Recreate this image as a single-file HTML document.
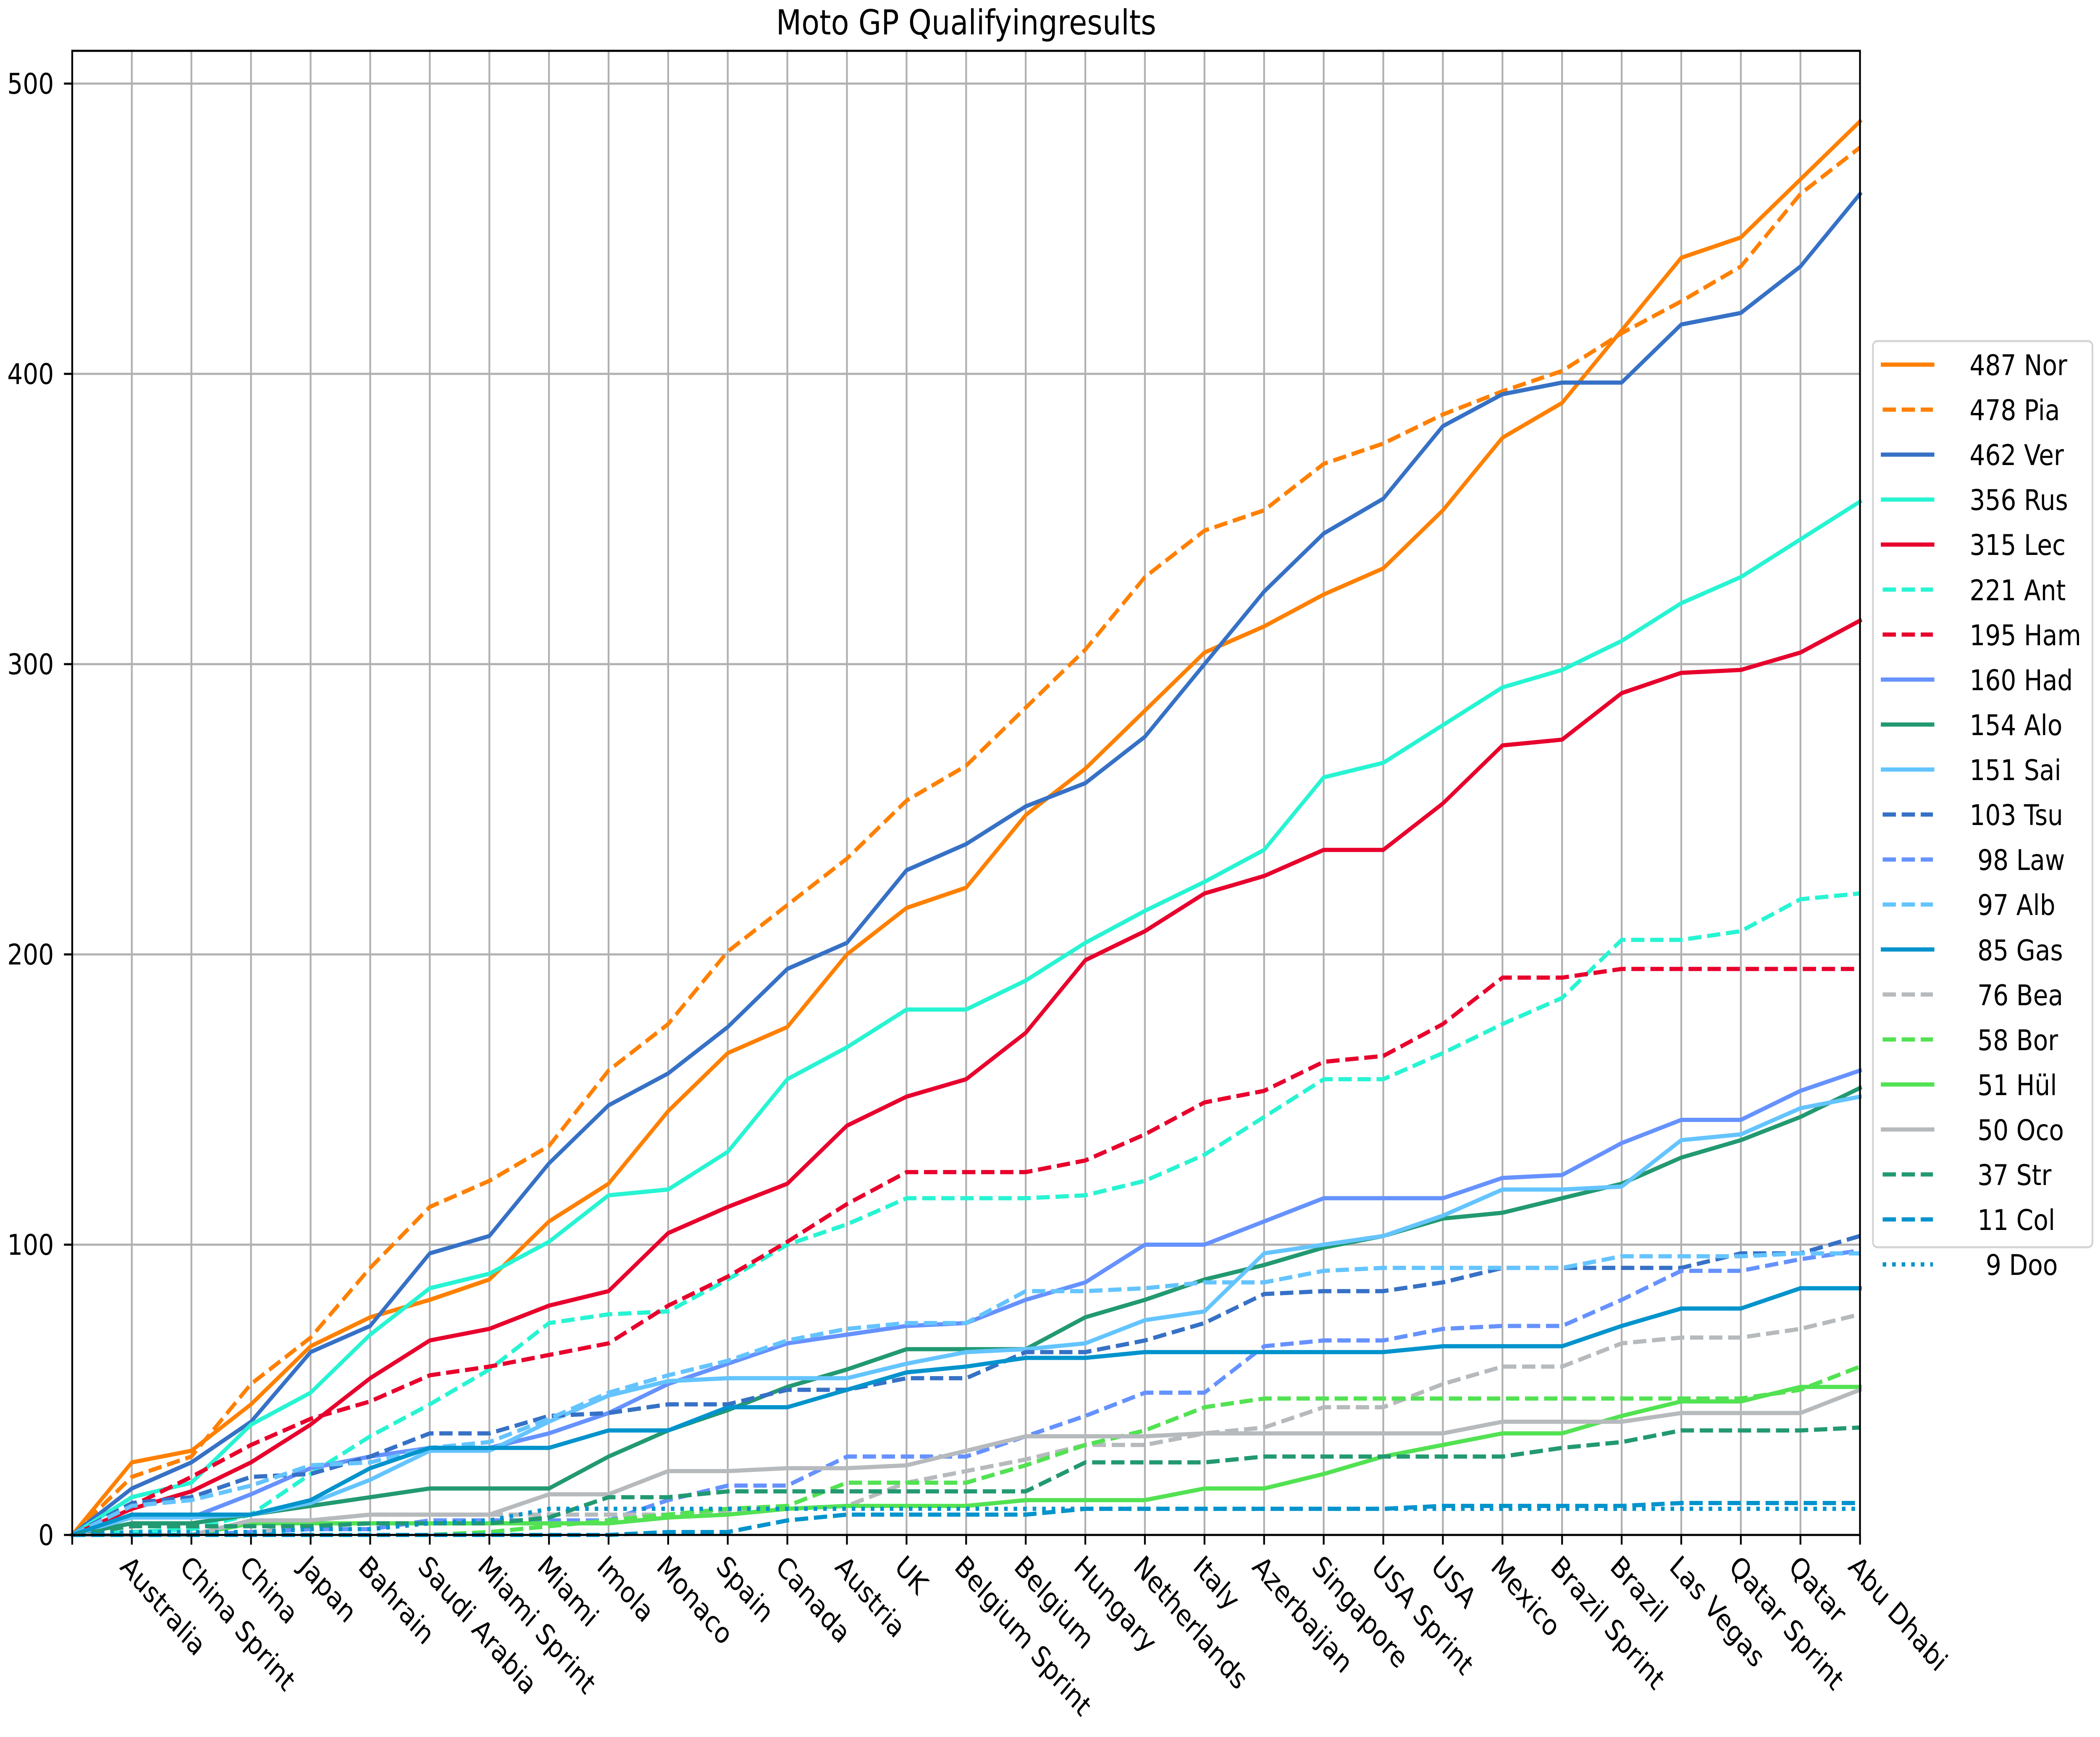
<!DOCTYPE html>
<html><head><meta charset="utf-8">
<meta name="viewport" content="width=5845,initial-scale=1">
<style>
html,body{margin:0;padding:0;background:#fff;overflow:hidden;width:100vw;height:100vh;}
svg{display:block;width:100vw;height:100vh;}
text{font-family:"DejaVu Sans","Liberation Sans",sans-serif;fill:#000;}
</style></head>
<body>
<svg id="s" xmlns="http://www.w3.org/2000/svg" viewBox="0 0 5845 4135" preserveAspectRatio="none">
<rect x="0" y="0" width="5845" height="4135" fill="#fff"/>
<g id="grid" stroke="#b0b0b0" stroke-width="5"></g>
<g id="lines" fill="none" stroke-width="10" stroke-linejoin="round"></g>
<rect x="201" y="121" width="4976" height="3533" fill="none" stroke="#000" stroke-width="5"/>
<g id="ticks" stroke="#000" stroke-width="5"></g>
<text x="2689" y="82" font-size="82" text-anchor="middle">Moto GP Qualifyingresults</text>
<g font-size="68" text-anchor="end">
<text x="150" y="3678">0</text>
<text x="150" y="2987">100</text>
<text x="150" y="2296">200</text>
<text x="150" y="1605">300</text>
<text x="150" y="914">400</text>
<text x="150" y="223">500</text>
</g>
<rect x="5213" y="812" width="611" height="2157" rx="12" fill="#fff" fill-opacity="0.8" stroke="#d5d5d5" stroke-width="5"/>
<g id="leg" fill="none" stroke-width="10"></g>
<g font-size="68" xml:space="preserve">
<text x="5482" y="893">487 Nor</text>
<text x="5482" y="1000">478 Pia</text>
<text x="5482" y="1107">462 Ver</text>
<text x="5482" y="1214">356 Rus</text>
<text x="5482" y="1321">315 Lec</text>
<text x="5482" y="1429">221 Ant</text>
<text x="5482" y="1536">195 Ham</text>
<text x="5482" y="1643">160 Had</text>
<text x="5482" y="1750">154 Alo</text>
<text x="5482" y="1857">151 Sai</text>
<text x="5482" y="1964">103 Tsu</text>
<text x="5504" y="2071">98 Law</text>
<text x="5504" y="2178">97 Alb</text>
<text x="5504" y="2286">85 Gas</text>
<text x="5504" y="2393">76 Bea</text>
<text x="5504" y="2500">58 Bor</text>
<text x="5504" y="2607">51 Hül</text>
<text x="5504" y="2714">50 Oco</text>
<text x="5504" y="2821">37 Str</text>
<text x="5504" y="2928">11 Col</text>
<text x="5527" y="3035">9 Doo</text>
</g>
<g font-size="68">
<text transform="translate(367,3697) rotate(45)" dominant-baseline="hanging">Australia</text>
<text transform="translate(533,3697) rotate(45)" dominant-baseline="hanging">China Sprint</text>
<text transform="translate(699,3697) rotate(45)" dominant-baseline="hanging">China</text>
<text transform="translate(865,3697) rotate(45)" dominant-baseline="hanging">Japan</text>
<text transform="translate(1030,3697) rotate(45)" dominant-baseline="hanging">Bahrain</text>
<text transform="translate(1196,3697) rotate(45)" dominant-baseline="hanging">Saudi Arabia</text>
<text transform="translate(1362,3697) rotate(45)" dominant-baseline="hanging">Miami Sprint</text>
<text transform="translate(1528,3697) rotate(45)" dominant-baseline="hanging">Miami</text>
<text transform="translate(1694,3697) rotate(45)" dominant-baseline="hanging">Imola</text>
<text transform="translate(1860,3697) rotate(45)" dominant-baseline="hanging">Monaco</text>
<text transform="translate(2026,3697) rotate(45)" dominant-baseline="hanging">Spain</text>
<text transform="translate(2191,3697) rotate(45)" dominant-baseline="hanging">Canada</text>
<text transform="translate(2357,3697) rotate(45)" dominant-baseline="hanging">Austria</text>
<text transform="translate(2523,3697) rotate(45)" dominant-baseline="hanging">UK</text>
<text transform="translate(2689,3697) rotate(45)" dominant-baseline="hanging">Belgium Sprint</text>
<text transform="translate(2855,3697) rotate(45)" dominant-baseline="hanging">Belgium</text>
<text transform="translate(3021,3697) rotate(45)" dominant-baseline="hanging">Hungary</text>
<text transform="translate(3187,3697) rotate(45)" dominant-baseline="hanging">Netherlands</text>
<text transform="translate(3353,3697) rotate(45)" dominant-baseline="hanging">Italy</text>
<text transform="translate(3518,3697) rotate(45)" dominant-baseline="hanging">Azerbaijan</text>
<text transform="translate(3684,3697) rotate(45)" dominant-baseline="hanging">Singapore</text>
<text transform="translate(3850,3697) rotate(45)" dominant-baseline="hanging">USA Sprint</text>
<text transform="translate(4016,3697) rotate(45)" dominant-baseline="hanging">USA</text>
<text transform="translate(4182,3697) rotate(45)" dominant-baseline="hanging">Mexico</text>
<text transform="translate(4348,3697) rotate(45)" dominant-baseline="hanging">Brazil Sprint</text>
<text transform="translate(4514,3697) rotate(45)" dominant-baseline="hanging">Brazil</text>
<text transform="translate(4679,3697) rotate(45)" dominant-baseline="hanging">Las Vegas</text>
<text transform="translate(4845,3697) rotate(45)" dominant-baseline="hanging">Qatar Sprint</text>
<text transform="translate(5011,3697) rotate(45)" dominant-baseline="hanging">Qatar</text>
<text transform="translate(5177,3697) rotate(45)" dominant-baseline="hanging">Abu Dhabi</text>
</g>
</svg>
<script>
(function(){
var NS="http://www.w3.org/2000/svg";
var X0=201,SX=165.87,Y0=3654,SY=6.91;
function el(n,a,p){var e=document.createElementNS(NS,n);for(var k in a)e.setAttribute(k,a[k]);p.appendChild(e);return e;}
var grid=document.getElementById('grid'),ticks=document.getElementById('ticks');
for(var i=1;i<30;i++){var x=X0+SX*i;el('line',{x1:x,y1:121,x2:x,y2:3654},grid);}
for(var v=100;v<=500;v+=100){var y=Y0-SY*v;el('line',{x1:201,y1:y,x2:5177,y2:y},grid);}
for(var i=0;i<=30;i++){var x=X0+SX*i;el('line',{x1:x,y1:3654,x2:x,y2:3677},ticks);}
for(var v=0;v<=500;v+=100){var y=Y0-SY*v;el('line',{x1:178,y1:y,x2:201,y2:y},ticks);}
var D="37,16",P="10,16.5";
var S=[
["#ff8000","",[0,25,29,45,65,75,81,88,108,121,146,166,175,200,216,223,248,264,284,304,313,324,333,353,378,390,415,440,447,467,487]],
["#ff8000",D,[0,20,27,52,68,92,113,122,134,160,176,201,217,233,253,265,285,305,330,346,353,369,376,386,394,401,414,425,437,462,478]],
["#3671c6","",[0,16,25,39,63,72,97,103,128,148,159,175,195,204,229,238,251,259,275,300,325,345,357,382,393,397,397,417,421,437,462]],
["#27f4d2","",[0,13,18,38,49,69,85,90,101,117,119,132,157,168,181,181,191,204,215,225,236,261,266,279,292,298,308,321,330,343,356]],
["#e8002d","",[0,9,15,25,38,54,67,71,79,84,104,113,121,141,151,157,173,198,208,221,227,236,236,252,272,274,290,297,298,304,315]],
["#27f4d2",D,[0,1,2,7,21,34,45,57,73,76,77,88,100,107,116,116,116,117,122,131,144,157,157,166,176,185,205,205,208,219,221]],
["#e8002d",D,[0,10,20,31,40,46,55,58,62,66,79,89,101,114,125,125,125,129,138,149,153,163,165,176,192,192,195,195,195,195,195]],
["#6692ff","",[0,6,6,14,23,27,30,30,35,42,52,59,66,69,72,73,81,87,100,100,108,116,116,116,123,124,135,143,143,153,160]],
["#229971","",[0,4,4,7,10,13,16,16,16,27,36,43,51,57,64,64,64,75,81,88,93,99,103,109,111,116,121,130,136,144,154]],
["#64c4ff","",[0,6,6,7,11,19,29,29,39,48,53,54,54,54,59,63,64,66,74,77,97,100,103,110,119,119,120,136,138,147,151]],
["#3671c6",D,[0,11,13,20,21,27,35,35,41,42,45,45,50,50,54,54,63,63,67,73,83,84,84,87,92,92,92,92,97,97,103]],
["#6692ff",D,[0,0,0,1,2,2,5,5,5,5,12,17,17,27,27,27,34,41,49,49,65,67,67,71,72,72,81,91,91,95,98]],
["#64c4ff",D,[0,10,12,17,24,25,30,32,40,49,55,60,67,71,73,73,84,84,85,87,87,91,92,92,92,92,96,96,96,97,97]],
["#0093cc","",[0,7,7,7,12,23,30,30,30,36,36,44,44,50,56,58,61,61,63,63,63,63,63,65,65,65,72,78,78,85,85]],
["#b6babd",D,[0,0,0,0,5,7,7,7,7,7,7,8,9,10,18,22,26,31,31,35,37,44,44,52,58,58,66,68,68,71,76]],
["#52e252",D,[0,0,0,0,0,0,0,1,3,5,7,9,10,18,18,18,24,31,36,44,47,47,47,47,47,47,47,47,47,50,58]],
["#52e252","",[0,0,0,4,4,4,4,4,4,4,6,7,9,10,10,10,12,12,12,16,16,21,27,31,35,35,41,46,46,51,51]],
["#b6babd","",[0,0,0,5,5,7,7,7,14,14,22,22,23,23,24,29,34,34,34,35,35,35,35,35,39,39,39,42,42,42,50]],
["#229971",D,[0,3,3,3,3,4,4,4,6,13,13,15,15,15,15,15,15,25,25,25,27,27,27,27,27,30,32,36,36,36,37]],
["#0093cc",D,[0,0,0,0,0,0,0,0,0,0,1,1,5,7,7,7,7,9,9,9,9,9,9,10,10,10,10,11,11,11,11]],
["#0093cc",P,[0,1,1,1,2,2,4,5,9,9,9,9,9,9,9,9,9,9,9,9,9,9,9,9,9,9,9,9,9,9,9]]
];
var lines=document.getElementById('lines'),leg=document.getElementById('leg');
S.forEach(function(s,k){
  var pts=s[2].map(function(v,i){return (X0+SX*i).toFixed(1)+","+(Y0-SY*v).toFixed(1);}).join(" ");
  var a={points:pts,stroke:s[0]};
  if(s[1]){a["stroke-dasharray"]=s[1];a["stroke-linecap"]="butt";}else{a["stroke-linecap"]="square";}
  el('polyline',a,lines);
  var y=868+107.1*k;
  var b={x1:5235,y1:y,x2:5384,y2:y,stroke:s[0]};
  if(s[1]){b["stroke-dasharray"]=s[1];b.x1=5240;b.x2=5380;}
  el('line',b,leg);
});
})();
</script>
</body></html>
